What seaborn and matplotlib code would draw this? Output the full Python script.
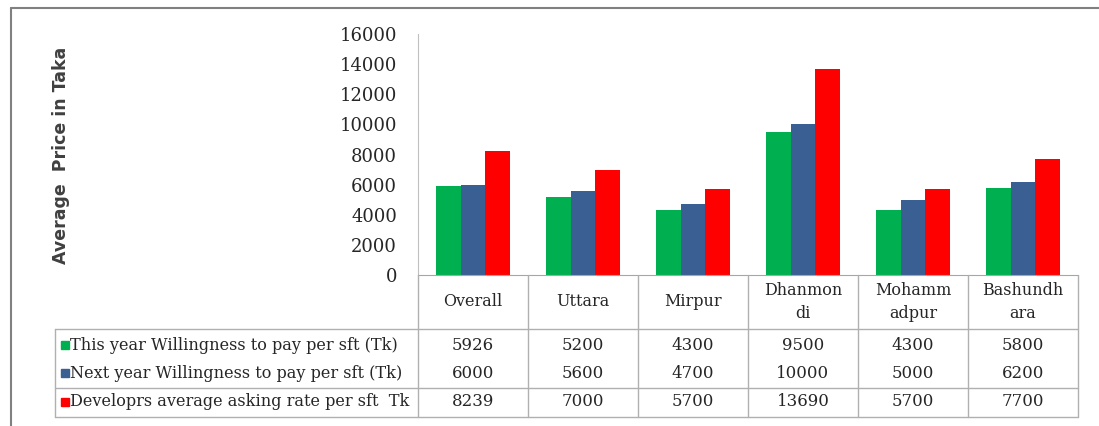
import numpy as np
import pandas as pd
import matplotlib
matplotlib.use("Agg")
import matplotlib.pyplot as plt
from matplotlib.patches import Rectangle
import seaborn as sns

# data
areas = ["Overall", "Uttara", "Mirpur", "Dhanmondi", "Mohammadpur", "Bashundhara"]
header_labels = ["Overall", "Uttara", "Mirpur", "Dhanmon\ndi", "Mohamm\nadpur", "Bashundh\nara"]
series_names = ["This year Willingness to pay per sft (Tk)",
                "Next year Willingness to pay per sft (Tk)",
                "Developrs average asking rate per sft  Tk"]
this_year = [5926, 5200, 4300, 9500, 4300, 5800]
next_year = [6000, 5600, 4700, 10000, 5000, 6200]
asking_rate = [8239, 7000, 5700, 13690, 5700, 7700]
yticks = [0, 2000, 4000, 6000, 8000, 10000, 12000, 14000, 16000]
colors = ["#00B050", "#3A5F93", "#FF0000"]

series_values = [this_year, next_year, asking_rate]
df = pd.DataFrame({
    "area": areas * 3,
    "series": np.repeat(series_names, len(areas)),
    "price": this_year + next_year + asking_rate,
})

sns.set_style("white")
plt.rcParams["font.family"] = ["DejaVu Serif"]

W, H = 1099, 426
fig = plt.figure(figsize=(W / 100, H / 100), dpi=100)

# pixel layout
x0, colw = 418, 110
y_top, y_zero = 34, 275
ax = fig.add_axes([x0 / W, 1 - y_zero / H, 6 * colw / W, (y_zero - y_top) / H])

sns.barplot(data=df, x="area", y="price", hue="series", order=areas,
            hue_order=series_names, palette=colors, saturation=1,
            width=0.667, gap=0, linewidth=0, legend=False, ax=ax)

ax.set_xlim(-0.5, 5.5)
ax.set_ylim(0, 16000)
ax.set_yticks(yticks)
ax.set_yticklabels([str(v) for v in yticks])
ax.set_xticks([])
ax.set_xlabel("")
ax.set_ylabel("")
ax.tick_params(axis="y", length=0, pad=15, labelsize=13, labelcolor="#262626")
for s in ["top", "right"]:
    ax.spines[s].set_visible(False)
ax.spines["left"].set_color("#c0c0c0")
ax.spines["bottom"].set_color("#a6a6a6")

fig.text(61 / W, 1 - 155 / H, "Average  Price in Taka", rotation=90,
         ha="center", va="center", fontsize=12.5, fontweight="bold",
         family="DejaVu Sans", color="#404040")

# overlay for frame and data table
ov = fig.add_axes([0, 0, 1, 1], facecolor="none")
ov.set_xlim(0, W)
ov.set_ylim(H, 0)
ov.axis("off")

frame_c = "#808080"
ov.plot([11, 11], [8, H], color=frame_c, lw=1.5)
ov.plot([11, W], [8, 8], color=frame_c, lw=1.5)

line_c = "#b0b0b0"
edges = x0 + colw * np.arange(7)
y_head, y_sep, y_bot = 329, 388, 417
for e in edges:
    ov.plot([e, e], [y_zero, y_bot], color=line_c, lw=1)
for yy in [y_head, y_sep, y_bot]:
    ov.plot([55, edges[-1]], [yy, yy], color=line_c, lw=1)
ov.plot([55, 55], [y_head, y_bot], color=line_c, lw=1)

centers = x0 + colw * (np.arange(6) + 0.5)
for cx, lab in zip(centers, header_labels):
    ov.text(cx, 302, lab, ha="center", va="center", fontsize=11.5,
            linespacing=1.4, color="#262626")

row_y = [345, 373, 402]
for ry, name, vals, c in zip(row_y, series_names, series_values, colors):
    ov.add_patch(Rectangle((61, ry - 4), 8, 8, color=c))
    ov.text(70, ry, name, ha="left", va="center", fontsize=11.6, color="#262626")
    for cx, v in zip(centers, vals):
        ov.text(cx, ry, str(v), ha="center", va="center", fontsize=12,
                color="#262626")

fig.savefig("out.png", dpi=100, facecolor="white")
